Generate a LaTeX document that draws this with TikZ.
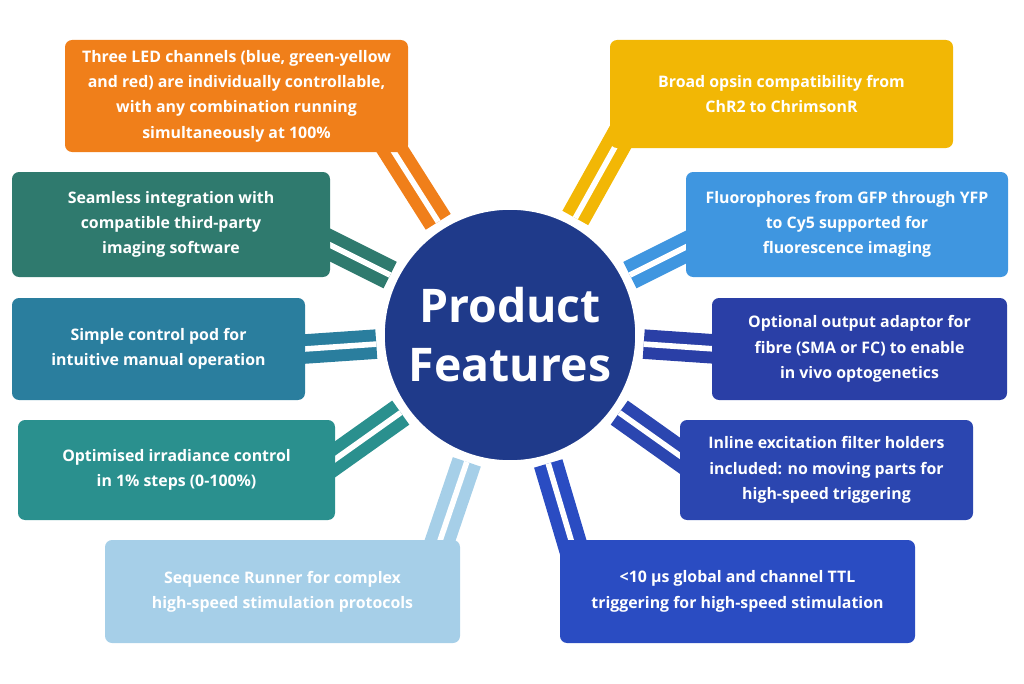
\documentclass[tikz,border=0pt]{standalone}
\usepackage{fontspec}
\setmainfont{Open Sans}
\begin{document}
\begin{tikzpicture}[x=0.025cm,y=-0.025cm,
 box/.style={draw=none,fill=#1,rounded corners=5pt,inner sep=0pt,align=center,text=white,font=\bfseries\fontsize{11.3}{18}\selectfont},
 ray/.style={draw=#1,line width=8.5pt,double=white,double distance=4pt,shorten <=3.35cm}]
\useasboundingbox (0,0) rectangle (1024,683);
\definecolor{c1}{HTML}{F07F1A}\definecolor{c2}{HTML}{2F7A6E}\definecolor{c3}{HTML}{2A7E9E}
\definecolor{c4}{HTML}{2A908E}\definecolor{c5}{HTML}{A6CFE8}\definecolor{c6}{HTML}{F2B705}
\definecolor{c7}{HTML}{3F96E0}\definecolor{c8}{HTML}{2A3FA6}\definecolor{c9}{HTML}{2B46B0}
\definecolor{c10}{HTML}{2A4CC2}\definecolor{cc}{HTML}{1F3A8A}
\coordinate (c) at (510,335);
\coordinate (r1) at (380,130);\coordinate (r2) at (320,240);\coordinate (r3) at (290,350);
\coordinate (r4) at (320,470);\coordinate (r5) at (430,570);\coordinate (r6) at (630,120);
\coordinate (r7) at (700,240);\coordinate (r8) at (730,350);\coordinate (r9) at (700,470);
\coordinate (r10) at (580,570);
\foreach \i in {1,...,10}{\draw[ray=c\i] (c) -- (r\i);}
\node[box=c1,minimum width=343*0.025cm,minimum height=112*0.025cm] (b1) at (236.5,96) {Three LED channels (blue, green-yellow\\and red) are individually controllable,\\with any combination running\\simultaneously at 100\%};
\node[box=c2,minimum width=318*0.025cm,minimum height=105*0.025cm] (b2) at (171,224.5) {Seamless integration with\\compatible third-party\\imaging software};
\node[box=c3,minimum width=293*0.025cm,minimum height=102*0.025cm] (b3) at (158.5,349) {Simple control pod for\\intuitive manual operation};
\node[box=c4,minimum width=317*0.025cm,minimum height=100*0.025cm] (b4) at (176.5,470) {Optimised irradiance control\\in 1\% steps (0-100\%)};
\node[box=c5,minimum width=355*0.025cm,minimum height=103*0.025cm] (b5) at (282.5,591.5) {Sequence Runner for complex\\high-speed stimulation protocols};
\node[box=c6,minimum width=343*0.025cm,minimum height=108*0.025cm] (b6) at (781.5,94) {Broad opsin compatibility from\\ChR2 to ChrimsonR};
\node[box=c7,minimum width=322*0.025cm,minimum height=105*0.025cm] (b7) at (847,224.5) {Fluorophores from GFP through YFP\\to Cy5 supported for\\fluorescence imaging};
\node[box=c8,minimum width=295*0.025cm,minimum height=102*0.025cm] (b8) at (859.5,349) {Optional output adaptor for\\fibre (SMA or FC) to enable\\in vivo optogenetics};
\node[box=c9,minimum width=293*0.025cm,minimum height=100*0.025cm] (b9) at (826.5,470) {Inline excitation filter holders\\included: no moving parts for\\high-speed triggering};
\node[box=c10,minimum width=355*0.025cm,minimum height=103*0.025cm] (b10) at (737.5,591.5) {<10 µs global and channel TTL\\triggering for high-speed stimulation};
\node[circle,fill=cc,draw=white,line width=4pt,minimum size=6.4cm,text=white,align=center,font=\bfseries\fontsize{33}{42}\selectfont] (cn) at (c) {Product\\Features};
\end{tikzpicture}
\end{document}
